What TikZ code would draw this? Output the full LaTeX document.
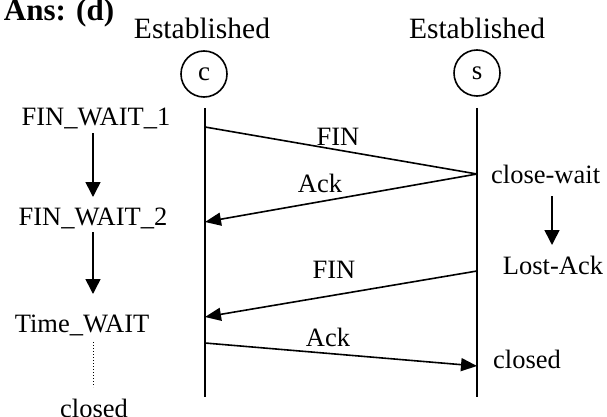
\documentclass[tikz,border=0pt]{standalone}
\usepackage{fontspec}
\setmainfont{Liberation Serif}
\usetikzlibrary{arrows.meta}
\begin{document}
\begin{tikzpicture}[x=1pt,y=-1pt,
  txt/.style={inner sep=0pt,font=\fontsize{26.5}{30}\selectfont},
  bigtxt/.style={inner sep=0pt,font=\fontsize{29.5}{32}\selectfont},
  party/.style={circle,draw,line width=1.6pt,minimum size=46pt,inner sep=0pt,font=\fontsize{27}{30}\selectfont},
  life/.style={line width=1.6pt},
  msg/.style={line width=1.6pt,-{Triangle[length=16pt,width=13pt]}},
  statearrow/.style={line width=1.6pt,-{Triangle[length=15pt,width=15pt]}},
  plainmsg/.style={line width=1.6pt}]
\useasboundingbox (0,0) rectangle (607,417);
\node[inner sep=0pt,anchor=base,font=\fontsize{31}{33}\selectfont\bfseries] (ans) at (59,21) {Ans: (d)};
\node[bigtxt] (estc) at (202,28) {Established};
\node[bigtxt] (ests) at (477,28) {Established};
\node[party] (c) at (204,74) {c};
\node[party] (s) at (477,73) {s};
% lifelines
\coordinate (ctop) at (205,108);
\coordinate (cbot) at (205,397);
\coordinate (stop) at (477,108);
\coordinate (sbot) at (477,397);
\draw[life] (ctop) -- (cbot);
\draw[life] (stop) -- (sbot);
% message points
\coordinate (m1a) at (205,127);
\coordinate (m1b) at (477,174);
\coordinate (m2b) at (205,222);
\coordinate (m3a) at (477,271);
\coordinate (m3b) at (205,317);
\coordinate (m4a) at (205,343);
\coordinate (m4b) at (477,366);
\draw[plainmsg] (m1a) -- (m1b);
\draw[msg] (m1b) -- (m2b);
\draw[msg] (m3a) -- (m3b);
\draw[msg] (m4a) -- (m4b);
\node[txt] (l1) at (338,137) {FIN};
\node[txt] (l2) at (320,183) {Ack};
\node[txt] (l3) at (334,270) {FIN};
\node[txt] (l4) at (328,337) {Ack};
% client states
\node[txt] (fw1) at (96,118) {FIN\_WAIT\_1};
\node[txt] (fw2) at (93,218) {FIN\_WAIT\_2};
\node[txt] (tw) at (82,325) {Time\_WAIT};
\node[txt] (cclosed) at (94,408) {closed};
\coordinate (a1s) at (93,133);
\coordinate (a1e) at (93,197);
\coordinate (a2s) at (93,232);
\coordinate (a2e) at (93,294);
\coordinate (d1s) at (93,342);
\coordinate (d1e) at (93,387);
\draw[statearrow] (a1s) -- (a1e);
\draw[statearrow] (a2s) -- (a2e);
\draw[line width=1pt,dotted] (d1s) -- (d1e);
% server states
\node[txt,anchor=west] (cw) at (491,174) {close-wait};
\node[txt] (la) at (553,265) {Lost-Ack};
\node[txt] (sclosed) at (527,359) {closed};
\coordinate (a3s) at (552,196);
\coordinate (a3e) at (552,245);
\draw[statearrow] (a3s) -- (a3e);
\end{tikzpicture}
\end{document}
